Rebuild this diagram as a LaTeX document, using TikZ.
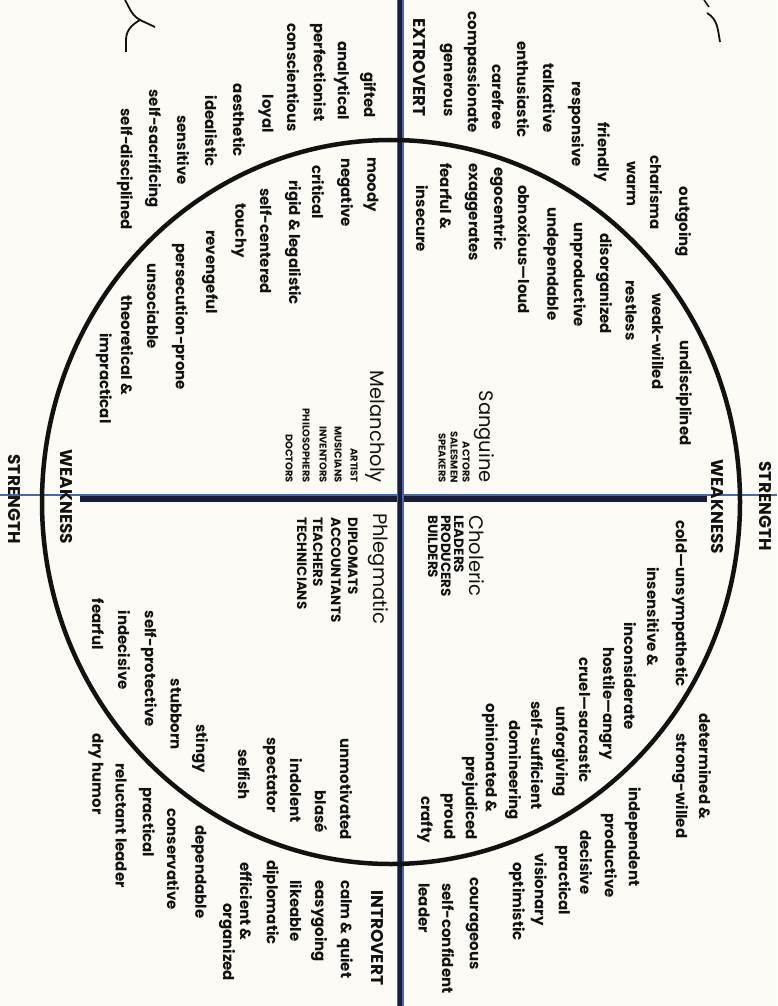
\documentclass[tikz,border=0pt]{standalone}
\usepackage{fontspec}
\setmainfont{Poppins}
\usetikzlibrary{positioning}
\definecolor{paperColor}{RGB}{252,251,245}
\definecolor{axisDark}{RGB}{24,30,58}
\definecolor{axisBlue}{RGB}{72,104,168}
\definecolor{inkColor}{RGB}{18,18,18}
\tikzset{
  trait/.style={rotate=-90, inner sep=0pt, text=inkColor, font=\bfseries\fontsize{15}{15}\selectfont},
  traitEnd/.style={trait, anchor=east},
  traitStart/.style={trait, anchor=west},
  temper/.style={rotate=-90, inner sep=0pt, text=inkColor, font=\fontsize{19.5}{19.5}\selectfont},
  job/.style={rotate=-90, inner sep=0pt, text=inkColor, font=\bfseries\fontsize{9.9}{9.9}\selectfont},
  bigJob/.style={job, font=\bfseries\fontsize{13.5}{13.5}\selectfont},
  axisLabel/.style={rotate=-90, inner sep=0pt, text=inkColor, font=\bfseries\fontsize{17}{17}\selectfont}
}

\begin{document}
\begin{tikzpicture}[x=1pt, y=-1pt]
\fill[paperColor] (0,0) rectangle (777,1006);
\useasboundingbox (0,0) rectangle (777,1006);

% axes and circle
\coordinate (top) at (400,0);
\coordinate (bottom) at (400,1006);
\coordinate (left) at (0,495);
\coordinate (right) at (777,495);
\coordinate (leftEnd) at (80,499);
\coordinate (rightEnd) at (707,499);
\draw[axisDark, line width=6pt] (leftEnd) -- (rightEnd);
\draw[axisBlue, line width=1.2pt] (left) -- (right);
\draw[axisBlue, line width=7pt] (top) -- (bottom);
\draw[axisDark, line width=4.5pt] (top) -- (bottom);
\draw[inkColor, line width=4.5pt] (391,502) ellipse [x radius=349, y radius=362];

% pen marks at the top
\draw[inkColor, line width=1.8pt] (125,0) to[out=-60, in=150] (140,20) to[out=210, in=90] (126,40) -- (126,52);
\draw[inkColor, line width=1.8pt] (140,20) -- (155,27);
\draw[inkColor, line width=1.5pt] (704,0) -- (709,7);
\draw[inkColor, line width=1.8pt] (707,13) to[out=-30, in=100] (720,42);

% axis labels
\node[axisLabel] (strengthL) at (14,499) {STRENGTH};
\node[axisLabel] (weaknessL) at (66,497) {WEAKNESS};
\node[axisLabel] (strengthR) at (765,506) {STRENGTH};
\node[axisLabel] (weaknessR) at (717,507) {WEAKNESS};
\node[axisLabel, anchor=east] (extro) at (419,117) {EXTROVERT};
\node[axisLabel, anchor=west] (intro) at (377,890) {INTROVERT};

% Melancholy
\node[temper, anchor=east] (mel) at (375,483) {Melancholy};
\node[job, anchor=east] (mel1) at (354,483) {ARTIST};
\node[job, anchor=east] (mel2) at (338,483) {MUSICIANS};
\node[job, anchor=east] (mel3) at (323,483) {INVENTORS};
\node[job, anchor=east] (mel4) at (306,483) {PHILOSOPHERS};
\node[job, anchor=east] (mel5) at (289,483) {DOCTORS};
\node[traitEnd] (M1) at (368,118) {gifted};
\node[traitEnd] (M2) at (342,120) {analytical};
\node[traitEnd] (M3) at (318,122) {perfectionist};
\node[traitEnd] (M4) at (293,132) {conscientious};
\node[traitEnd] (M5) at (266,133) {loyal};
\node[traitEnd] (M6) at (239,157) {aesthetic};
\node[traitEnd] (M7) at (211,167) {idealistic};
\node[traitEnd] (M8) at (183,185) {sensitive};
\node[traitEnd] (M9) at (153,208) {self-sacrificing};
\node[traitEnd] (M10) at (125,230) {self-disciplined};
\node[traitStart] (Mw1) at (371,157) {moody};
\node[traitStart] (Mw2) at (345,158) {negative};
\node[traitStart] (Mw3) at (318,165) {critical};
\node[traitStart] (Mw4) at (293,180) {rigid \& legalistic};
\node[traitStart] (Mw5) at (266,188) {self-centered};
\node[traitStart] (Mw6) at (239,203) {touchy};
\node[traitStart] (Mw7) at (210,230) {revengeful};
\node[traitStart] (Mw8) at (180,243) {persecution-prone};
\node[traitStart] (Mw9) at (153,263) {unsociable};
\node[traitStart] (Mw10) at (127,295) {theoretical \&};
\node[traitStart] (Mw11) at (104,333) {impractical};

% Sanguine
\node[temper, anchor=east] (san) at (484,483) {Sanguine};
\node[job, anchor=east] (san1) at (466,483) {ACTORS};
\node[job, anchor=east] (san2) at (454,483) {SALESMEN};
\node[job, anchor=east] (san3) at (442,483) {SPEAKERS};
\node[traitEnd] (S1) at (683,257) {outgoing};
\node[traitEnd] (S2) at (656,230) {charisma};
\node[traitEnd] (S3) at (631,207) {warm};
\node[traitEnd] (S4) at (602,182) {friendly};
\node[traitEnd] (S5) at (576,167) {responsive};
\node[traitEnd] (S6) at (549,133) {talkative};
\node[traitEnd] (S7) at (523,138) {enthusiastic};
\node[traitEnd] (S8) at (498,130) {carefree};
\node[traitEnd] (S9) at (472,133) {compassionate};
\node[traitEnd] (S10) at (446,117) {generous};
\node[traitStart] (Sw1) at (684,340) {undisciplined};
\node[traitStart] (Sw2) at (658,293) {weak-willed};
\node[traitStart] (Sw3) at (631,280) {restless};
\node[traitStart] (Sw4) at (604,233) {disorganized};
\node[traitStart] (Sw5) at (578,222) {unproductive};
\node[traitStart] (Sw6) at (551,207) {undependable};
\node[traitStart] (Sw7) at (524,185) {obnoxious—loud};
\node[traitStart] (Sw8) at (498,167) {egocentric};
\node[traitStart] (Sw9) at (472,163) {exaggerates};
\node[traitStart] (Sw10) at (446,163) {fearful \&};
\node[traitStart] (Sw11) at (422,185) {insecure};

% Choleric
\node[temper, anchor=west] (cho) at (477,515) {Choleric};
\node[bigJob, anchor=west] (cho1) at (459,515) {LEADERS};
\node[bigJob, anchor=west] (cho2) at (446,515) {PRODUCERS};
\node[bigJob, anchor=west] (cho3) at (433,515) {BUILDERS};
\node[traitStart] (C1) at (705,713) {determined \&};
\node[traitStart] (C2) at (680,733) {strong-willed};
\node[traitStart] (C3) at (633,787) {independent};
\node[traitStart] (C4) at (609,813) {productive};
\node[traitStart] (C5) at (586,830) {decisive};
\node[traitStart] (C6) at (563,845) {practical};
\node[traitStart] (C7) at (539,853) {visionary};
\node[traitStart] (C8) at (517,862) {optimistic};
\node[traitStart] (C9) at (472,877) {courageous};
\node[traitStart] (C10) at (448,883) {self-confident};
\node[traitStart] (C11) at (424,883) {leader};
\node[traitEnd] (Cw1) at (680,687) {cold—unsympathetic};
\node[traitEnd] (Cw2) at (653,667) {insensitive \&};
\node[traitStart] (Cw3) at (630,622) {inconsiderate};
\node[traitEnd] (Cw4) at (607,760) {hostile—angry};
\node[traitEnd] (Cw5) at (585,783) {cruel—sarcastic};
\node[traitEnd] (Cw6) at (560,797) {unforgiving};
\node[traitEnd] (Cw7) at (537,810) {self-sufficient};
\node[traitEnd] (Cw8) at (513,820) {domineering};
\node[traitEnd] (Cw9) at (490,813) {opinionated \&};
\node[traitEnd] (Cw10) at (470,840) {prejudiced};
\node[traitEnd] (Cw11) at (448,840) {proud};
\node[traitEnd] (Cw12) at (425,843) {crafty};

% Phlegmatic
\node[temper, anchor=west] (phl) at (378,513) {Phlegmatic};
\node[bigJob, anchor=west] (phl1) at (353,517) {DIPLOMATS};
\node[bigJob, anchor=west] (phl2) at (336,517) {ACCOUNTANTS};
\node[bigJob, anchor=west] (phl3) at (318,517) {TEACHERS};
\node[bigJob, anchor=west] (phl4) at (302,517) {TECHNICIANS};
\node[traitStart] (P1) at (345,880) {calm \& quiet};
\node[traitStart] (P2) at (319,880) {easygoing};
\node[traitStart] (P3) at (296,880) {likeable};
\node[traitStart] (P4) at (271,860) {diplomatic};
\node[traitStart] (P5) at (246,862) {efficient \&};
\node[traitStart] (P6) at (227,903) {organized};
\node[traitStart] (P7) at (199,825) {dependable};
\node[traitStart] (P8) at (173,808) {conservative};
\node[traitStart] (P9) at (147,787) {practical};
\node[traitStart] (P10) at (121,763) {reluctant leader};
\node[traitStart] (P11) at (96,733) {dry humor};
\node[traitEnd] (Pw1) at (346,840) {unmotivated};
\node[traitEnd] (Pw2) at (321,833) {blasé};
\node[traitEnd] (Pw3) at (296,823) {indolent};
\node[traitEnd] (Pw4) at (270,813) {spectator};
\node[traitEnd] (Pw5) at (244,800) {selfish};
\node[traitEnd] (Pw6) at (200,773) {stingy};
\node[traitEnd] (Pw7) at (176,750) {stubborn};
\node[traitEnd] (Pw8) at (149,727) {self-protective};
\node[traitEnd] (Pw9) at (124,690) {indecisive};
\node[traitEnd] (Pw10) at (98,650) {fearful};
\end{tikzpicture}
\end{document}
